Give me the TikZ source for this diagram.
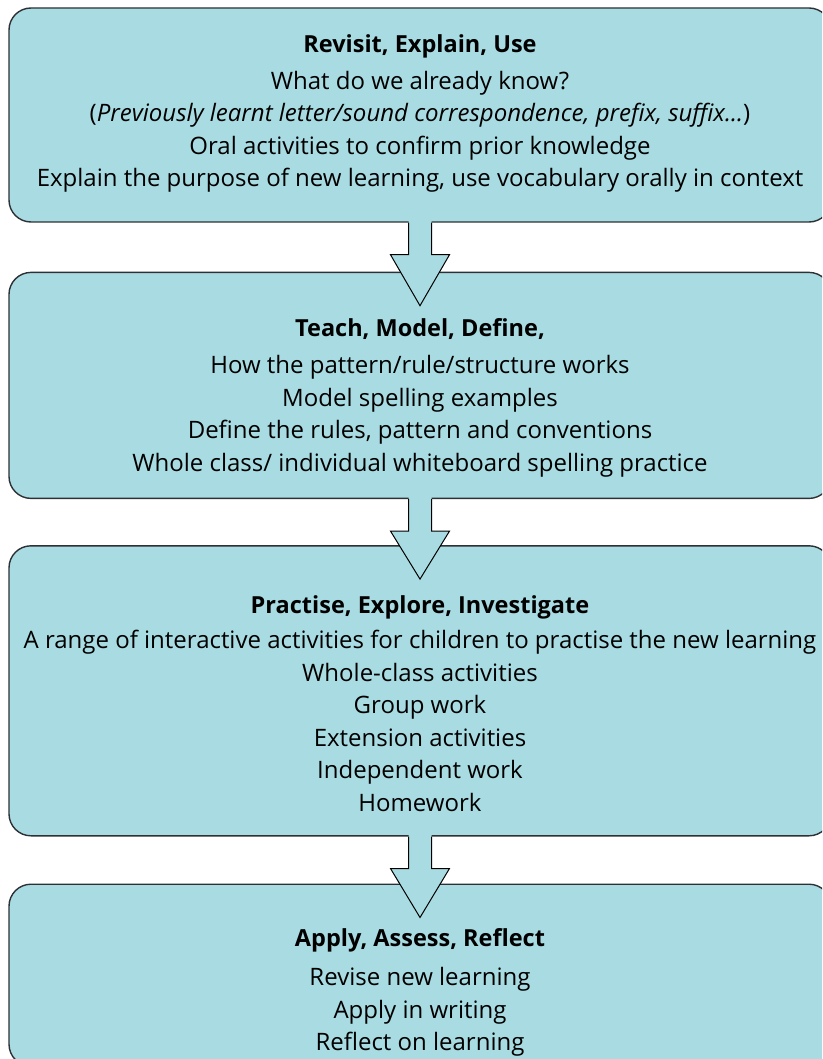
\documentclass[tikz,border=0pt]{standalone}
\usepackage{fontspec}
\setmainfont{Open Sans}
\usetikzlibrary{positioning, calc}

\definecolor{panelblue}{RGB}{168,220,226}
\definecolor{paneledge}{RGB}{45,48,52}

\begin{document}
\begin{tikzpicture}[x=1pt, y=-1pt,
  panel/.style={draw=paneledge, line width=1.4pt, fill=panelblue,
                rounded corners=22pt, minimum width=822pt, inner sep=0pt},
  head/.style={anchor=base, inner sep=0pt, font=\fontsize{23.5}{28}\selectfont\bfseries},
  body/.style={anchor=base, inner sep=0pt, align=center,
               font=\fontsize{24}{32.5}\selectfont},
  blockarr/.style={draw=black, line width=1pt, line join=miter}]
  \useasboundingbox (0,0) rectangle (822,1059);
  \clip (0,0) rectangle (822,1059);

  % the four stages
  \node[panel, minimum height=214pt] (revisit) at (420,115) {};
  \node[panel, minimum height=226pt, below=49pt of revisit] (teach) {};
  \node[panel, minimum height=290pt, below=46pt of teach] (practise) {};
  \node[panel, minimum height=182pt, below=47pt of practise] (apply) {};

  % block arrows between the stages
  \foreach \a/\b in {revisit/teach, teach/practise, practise/apply} {
    \coordinate (s) at (\a.south);
    \coordinate (t) at ($(\b.north)+(0,34)$);
    \fill[panelblue] ($(s)+(-11.5,-2)$) -- ++(0,34) -- ++(-18,0) -- (t)
      -- ($(s)+(29.5,32)$) -- ++(-18,0) -- ++(0,-34) -- cycle;
    \draw[blockarr] ($(s)+(-11.5,0)$) -- ++(0,32) -- ++(-18,0) -- (t)
      -- ($(s)+(29.5,32)$) -- ++(-18,0) -- ++(0,-32);
  }

  % texts (body nodes sit on the baseline of their last line)
  \node[head] (revisithead) at ($(revisit.north)+(0,45)$) {Revisit, Explain, Use};
  \node[body] (revisittext) at ($(revisithead.base)+(0,{37+3*32.5})$)
    {What do we already know?\\
     (\textit{Previously learnt letter/sound correspondence, prefix, suffix...})\\
     Oral activities to confirm prior knowledge\\
     Explain the purpose of new learning, use vocabulary orally in context};

  \node[head] (teachhead) at ($(teach.north)+(0,65)$) {Teach, Model, Define,};
  \node[body] (teachtext) at ($(teachhead.base)+(0,{37+3*32.5})$)
    {How the pattern/rule/structure works\\
     Model spelling examples\\
     Define the rules, pattern and conventions\\
     Whole class/ individual whiteboard spelling practice};

  \node[head] (practisehead) at ($(practise.north)+(0,68)$) {Practise, Explore, Investigate};
  \node[body] (practisetext) at ($(practisehead.base)+(0,{38+5*32})$)
    {A range of interactive activities for children to practise the new learning\\
     Whole-class activities\\
     Group work\\
     Extension activities\\
     Independent work\\
     Homework};

  \node[head] (applyhead) at ($(apply.north)+(0,63)$) {Apply, Assess, Reflect};
  \node[body] (applytext) at ($(applyhead.base)+(0,{39+2*32.5})$)
    {Revise new learning\\
     Apply in writing\\
     Reflect on learning};
\end{tikzpicture}
\end{document}
